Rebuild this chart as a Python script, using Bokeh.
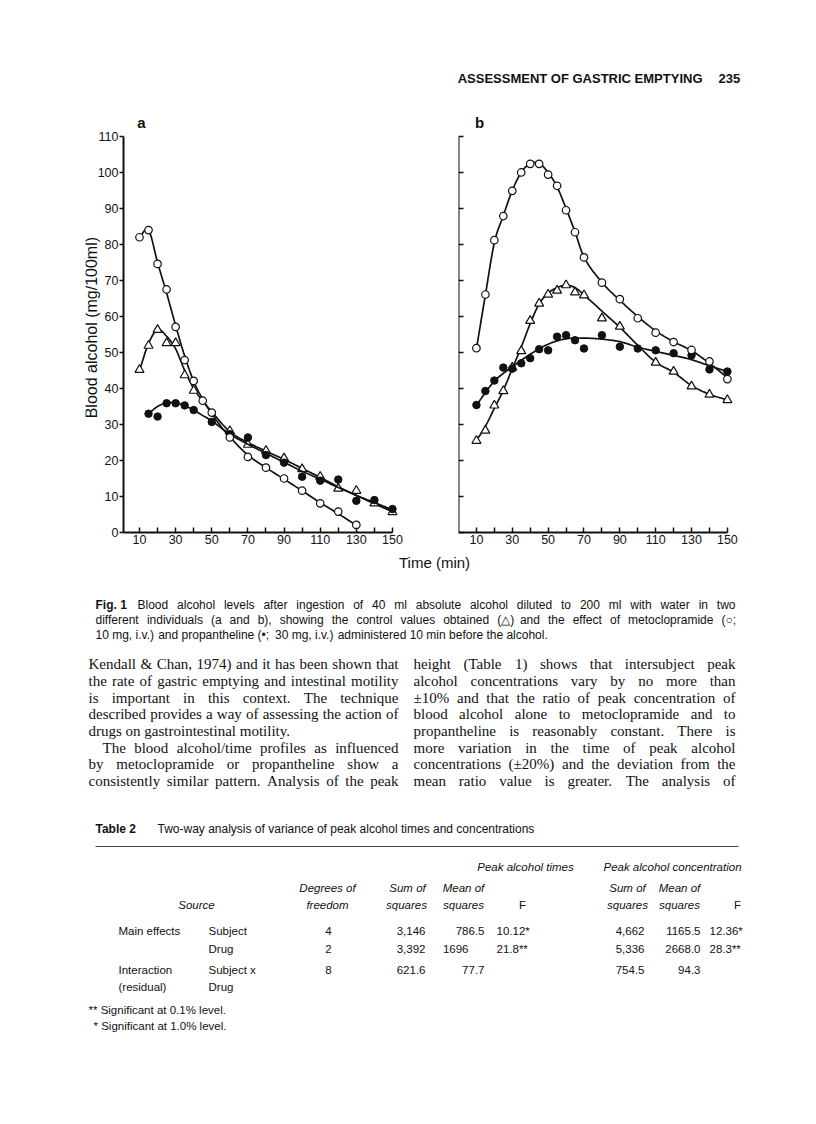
import numpy as np
from math import pi
from bokeh.plotting import figure
from bokeh.models import Range1d, FixedTicker, Label, ColumnDataSource
from bokeh.layouts import column, row
from bokeh.core.properties import value
from bokeh.embed import file_html
from bokeh.resources import INLINE

INK = "#111111"

# ---------------- data ----------------
# panel a : open circles = metoclopramide, triangles = control, filled = propantheline
a_met_t = [10, 15, 20, 25, 30, 35, 40, 45, 50, 60, 70, 80, 90, 100, 110, 120, 130]
a_met_v = [82, 84, 74.6, 67.5, 57.1, 47.9, 42.1, 36.6, 33.3, 26.4, 21, 18, 15, 11.6, 8.1, 5.8, 2.1]
a_ctl_t = [10, 15, 20, 25, 30, 35, 40, 60, 70, 80, 90, 100, 110, 120, 130, 140, 150]
a_ctl_v = [45.2, 51.9, 56.3, 52.6, 52.6, 43.7, 39.4, 28.2, 24.4, 22.7, 20.6, 17.6, 15.5, 12.2, 11.6, 8.1, 5.7]
a_pro_t = [15, 20, 25, 30, 35, 40, 50, 60, 70, 80, 90, 100, 110, 120, 130, 140, 150]
a_pro_v = [33, 32.2, 35.9, 35.9, 35.3, 34, 30.7, 27.3, 26.4, 21.5, 19.4, 15.5, 14.4, 14.7, 8.8, 9, 6.5]

# fitted curves of panel a (read at knots)
a_met_ck = [10, 15, 20, 25, 30, 35, 40, 45, 50, 55, 60, 70, 80, 90, 100, 110, 120, 130]
a_met_cv = [82, 84, 75, 66.5, 57.5, 49, 42, 37, 33, 29.5, 26.5, 21.5, 18, 14.8, 11.6, 8.3, 5.2, 2]
a_ctl_ck = [10, 15, 20, 25, 30, 35, 40, 45, 50, 60, 70, 80, 90, 100, 110, 120, 130, 140, 150]
a_ctl_cv = [45, 52.5, 56.3, 54.5, 51, 45, 40, 36.5, 33.5, 28, 25, 22.6, 20.3, 17.8, 15.3, 12.7, 10.3, 8, 5.8]
a_pro_ck = [15, 20, 25, 30, 35, 40, 45, 50, 60, 70, 80, 90, 100, 110, 120, 130, 140, 150]
a_pro_cv = [33, 35, 36, 36, 35.2, 34, 32.5, 31, 27.3, 24.5, 22, 19.5, 17, 14.8, 12.5, 10.3, 8.3, 6.3]

# panel b
b_met_t = [10, 15, 20, 25, 30, 35, 40, 45, 50, 55, 60, 65, 70, 80, 90, 100, 110, 120, 130, 140, 150]
b_met_v = [51.2, 66.1, 81.2, 87.9, 94.9, 100, 102.4, 102.4, 99.4, 96.3, 89.5, 83.4, 76.4, 69.4, 64.8,
           59.5, 55.5, 52.9, 50.7, 47.5, 42.6]
b_ctl_t = [10, 15, 20, 25, 30, 35, 40, 45, 50, 55, 60, 65, 70, 80, 90, 110, 120, 130, 140, 150]
b_ctl_v = [25.5, 28.3, 35.3, 39.3, 45.8, 50.4, 58.8, 63.6, 66.1, 67.2, 68.7, 66.7, 65.9, 59.5, 57.2,
           47.2, 44.7, 40.6, 38.3, 36.8]
b_pro_t = [10, 15, 20, 25, 30, 35, 40, 45, 50, 55, 60, 65, 70, 80, 90, 100, 110, 120, 130, 140, 150]
b_pro_v = [35.4, 39.3, 42.2, 45.8, 45.5, 47, 48.4, 50.9, 50.6, 54.4, 54.8, 53.4, 51.1, 54.8, 51.6,
           51.1, 50.6, 49.8, 49.2, 45.3, 44.7]

b_met_ck = [10, 15, 20, 25, 30, 35, 40, 45, 50, 55, 60, 65, 70, 80, 90, 100, 110, 120, 130, 140, 150]
b_met_cv = [51, 66, 80.5, 88, 95, 100, 102.5, 102.5, 100, 96, 90, 83.5, 76.5, 69.5, 64.5, 60, 56, 53,
            50.5, 47, 43]
b_ctl_ck = [10, 15, 20, 25, 30, 35, 40, 45, 50, 55, 60, 65, 70, 80, 90, 100, 110, 120, 130, 140, 150]
b_ctl_cv = [25.5, 29.5, 34.5, 39.5, 45.5, 51.5, 58, 63.5, 66.5, 68, 68.7, 68, 66, 61.5, 57, 52, 47.3,
            44.5, 40.8, 38.4, 36.8]
b_pro_ck = [10, 20, 30, 40, 50, 60, 70, 80, 90, 100, 110, 120, 130, 140, 150]
b_pro_cv = [35.4, 42, 46, 49.5, 52.3, 53.8, 54, 53.7, 53, 51.5, 50.3, 49.2, 48, 46.3, 44.7]

x_label_ticks = [10, 30, 50, 70, 90, 110, 130, 150]
x_plain_ticks = [20, 40, 60, 80, 100, 120, 140]
y_ticks = [0, 10, 20, 30, 40, 50, 60, 70, 80, 90, 100, 110]

# ---------------- texts ----------------
header_title = "ASSESSMENT OF GASTRIC EMPTYING"
header_page = "235"
y_title = "Blood alcohol (mg/100ml)"
x_title = "Time (min)"

caption_lines = [
    "Blood alcohol levels after ingestion of 40 ml absolute alcohol diluted to 200 ml with water in two",
    "different individuals (a and b), showing the control values obtained (\u25b3) and the effect of metoclopramide (\u25cb;",
    "10 mg, i.v.) and propantheline (\u2022; 30 mg, i.v.) administered 10 min before the alcohol.",
]
left_col = [
    "Kendall & Chan, 1974) and it has been shown that",
    "the rate of gastric emptying and intestinal motility",
    "is important in this context. The technique",
    "described provides a way of assessing the action of",
    "drugs on gastrointestinal motility.",
    "The blood alcohol/time profiles as influenced",
    "by metoclopramide or propantheline show a",
    "consistently similar pattern. Analysis of the peak",
]
right_col = [
    "height (Table 1) shows that intersubject peak",
    "alcohol concentrations vary by no more than",
    "\u00b110% and that the ratio of peak concentration of",
    "blood alcohol alone to metoclopramide and to",
    "propantheline is reasonably constant. There is",
    "more variation in the time of peak alcohol",
    "concentrations (\u00b120%) and the deviation from the",
    "mean ratio value is greater. The analysis of",
]
table_title = "Two-way analysis of variance of peak alcohol times and concentrations"
tbl_sources = ["Main effects", "", "Interaction", "(residual)"]
tbl_terms = ["Subject", "Drug", "Subject x", "Drug"]
tbl_df = ["4", "2", "8", ""]
tbl_t_ss = ["3,146", "3,392", "621.6", ""]
tbl_t_ms = ["786.5", "1696", "77.7", ""]
tbl_t_f = ["10.12*", "21.8**", "", ""]
tbl_c_ss = ["4,662", "5,336", "754.5", ""]
tbl_c_ms = ["1165.5", "2668.0", "94.3", ""]
tbl_c_f = ["12.36*", "28.3**", "", ""]
footnotes = ["** Significant at 0.1% level.", "* Significant at 1.0% level."]

# ---------------- helpers ----------------
def _tab(spec):
    d = {}
    for item in spec.split():
        d[item[0]] = int(item[1:])
    return d

SANS = _tab("A667 B667 C722 D722 E667 F611 G778 H722 I278 J500 K667 L556 M833 N722 O778 P667 Q778 "
            "R722 S667 T611 U722 V667 W944 X667 Y667 Z611 a556 b556 c500 d556 e556 f278 g556 h556 "
            "i222 j222 k500 l222 m833 n556 o556 p556 q556 r333 s500 t278 u556 v500 w722 x500 y500 "
            "z500 0556 1556 2556 3556 4556 5556 6556 7556 8556 9556 .278 ,278 (333 )333 ;278 :278 "
            "-333 %889 *389 /278")
SANS[" "] = 278
SERIF = _tab("A722 B667 C667 D722 E611 F556 G722 H722 I333 J389 K722 L611 M889 N722 O722 P556 Q722 "
             "R667 S556 T611 U722 V722 W944 X722 Y722 Z611 a444 b500 c444 d500 e444 f333 g500 h500 "
             "i278 j278 k500 l278 m778 n500 o500 p500 q500 r333 s389 t278 u500 v500 w722 x500 y500 "
             "z444 0500 1500 2500 3500 4500 5500 6500 7500 8500 9500 .250 ,250 (333 )333 ;278 :278 "
             "-333 %833 &778 /278")
SERIF[" "] = 250


def text_w(s, table):
    return sum(table.get(c, 560) for c in s) / 1000.0


def layout_line(s, x0, x1, y, size, table, justify):
    words = s.split(" ")
    ws = [text_w(w, table) * size for w in words]
    if justify and len(words) > 1:
        gap = (x1 - x0 - sum(ws)) / (len(words) - 1)
    else:
        gap = table[" "] / 1000.0 * size
    out = []
    x = x0
    for w, wd in zip(words, ws):
        out.append((x, y, w))
        x += wd + gap
    return out


def smooth_curve(xk, yk, n=16):
    xk = np.asarray(xk, float)
    yk = np.asarray(yk, float)
    m = np.zeros_like(yk)
    m[1:-1] = (yk[2:] - yk[:-2]) / (xk[2:] - xk[:-2])
    m[0] = (yk[1] - yk[0]) / (xk[1] - xk[0])
    m[-1] = (yk[-1] - yk[-2]) / (xk[-1] - xk[-2])
    xs, ys = [], []
    for i in range(len(xk) - 1):
        h = xk[i + 1] - xk[i]
        t = np.linspace(0, 1, n, endpoint=False)
        h00 = 2 * t**3 - 3 * t**2 + 1
        h10 = t**3 - 2 * t**2 + t
        h01 = -2 * t**3 + 3 * t**2
        h11 = t**3 - t**2
        xs.extend(xk[i] + t * h)
        ys.extend(h00 * yk[i] + h10 * h * m[i] + h01 * yk[i + 1] + h11 * h * m[i + 1])
    xs.append(xk[-1])
    ys.append(yk[-1])
    return xs, ys


def text_fig(w, h):
    p = figure(width=w, height=h, x_range=Range1d(0, w), y_range=Range1d(h, 0),
               x_axis_location=None, y_axis_location=None, min_border=0,
               output_backend="svg", toolbar_location=None)
    p.grid.visible = False
    p.outline_line_color = None
    return p


def put_text(p, items, font, size, style="normal", align="left", color=INK):
    if not items:
        return
    src = ColumnDataSource(dict(x=[i[0] for i in items], y=[i[1] for i in items],
                                t=[i[2] for i in items]))
    p.text(x="x", y="y", text="t", source=src, text_font=value(font), text_font_size=size,
           text_font_style=style, text_align=align, text_baseline="middle", text_color=color)


Y_TOP = 116.1   # room above the 110 tick for the panel letter
Y_BOT = -5.56   # room below 0 for the time tick labels


def panel(width, x0, x_axis0, x1, bl, br, show_ylabels, label_txt, label_x):
    p = figure(width=width, height=444, x_range=Range1d(x0, x1), y_range=Range1d(Y_BOT, Y_TOP),
               min_border_left=bl, min_border_right=br, min_border_top=6, min_border_bottom=0,
               output_backend="svg", toolbar_location=None)
    p.grid.visible = False
    p.outline_line_color = None
    for ax in (p.xaxis[0], p.yaxis[0]):
        ax.axis_line_width = 2
        ax.axis_line_color = INK
        ax.major_tick_line_width = 1.5
        ax.major_tick_line_color = INK
        ax.minor_tick_line_width = 1.5
        ax.minor_tick_line_color = INK
        ax.major_label_text_font = "Liberation Sans"
        ax.major_label_text_font_size = "12.5px"
        ax.major_label_text_color = INK
    xa = p.xaxis[0]
    xa.ticker = FixedTicker(ticks=x_label_ticks, minor_ticks=x_plain_ticks)
    xa.major_tick_in = 5
    xa.major_tick_out = 0
    xa.minor_tick_in = 5
    xa.minor_tick_out = 0
    xa.major_label_standoff = 3
    xa.bounds = (x_axis0, 150)
    xa.fixed_location = 0
    ya = p.yaxis[0]
    ya.bounds = (0, 110)
    ya.fixed_location = x_axis0
    if show_ylabels:
        ya.ticker = FixedTicker(ticks=y_ticks)
        ya.major_tick_in = 0
        ya.major_tick_out = 4
        ya.major_label_standoff = 1
    else:
        ya.ticker = FixedTicker(ticks=[], minor_ticks=y_ticks)
        ya.minor_tick_in = 5
        ya.minor_tick_out = 0
    p.add_layout(Label(x=label_x, y=113.8, text=label_txt, text_align="center",
                       text_baseline="middle", text_font="Liberation Sans",
                       text_font_size="15px", text_font_style="bold", text_color=INK))
    return p


def draw_series(p, t_pts, v_pts, ck, cv, kind):
    cx, cy = smooth_curve(ck, cv)
    p.line(cx, cy, line_width=1.7, line_color=INK)
    if kind == "open":
        p.scatter(t_pts, v_pts, marker="circle", size=7.5, fill_color="white",
                  line_color=INK, line_width=1.2)
    elif kind == "tri":
        p.scatter(t_pts, v_pts, marker="triangle", size=9, fill_color="white",
                  line_color=INK, line_width=1.2)
    else:
        p.scatter(t_pts, v_pts, marker="circle", size=7.5, fill_color=INK,
                  line_color=INK, line_width=1)


# ---------------- header (page y 0..108) ----------------
hdr = text_fig(808, 108)
put_text(hdr, [(702, 78, header_title)], "Liberation Sans", "13px", "bold", "right")
put_text(hdr, [(718, 78, header_page)], "Liberation Sans", "13px", "bold", "left")

# ---------------- panels (page y 108..552) ----------------
# panel a: frame from page x 85 to 403, y axis at page x 123 (t = 1.15)
pa = panel(408, -19.88, 1.15, 156.1, 85, 5, True, "a", 11.1)
draw_series(pa, a_ctl_t, a_ctl_v, a_ctl_ck, a_ctl_cv, "tri")
draw_series(pa, a_pro_t, a_pro_v, a_pro_ck, a_pro_cv, "fill")
draw_series(pa, a_met_t, a_met_v, a_met_ck, a_met_cv, "open")
pa.add_layout(Label(x=-16.8, y=56.9, text=y_title, angle=pi / 2, text_align="center",
                    text_baseline="middle", text_font="Liberation Sans", text_font_size="16px",
                    text_color=INK))

# panel b: frame from page x 458
pb = panel(400, 0, 0, 156.2, 50, 70, False, "b", 11.7)
draw_series(pb, b_ctl_t, b_ctl_v, b_ctl_ck, b_ctl_cv, "tri")
draw_series(pb, b_pro_t, b_pro_v, b_pro_ck, b_pro_cv, "fill")
draw_series(pb, b_met_t, b_met_v, b_met_ck, b_met_cv, "open")

# ---------------- lower page (page y 552..1116) ----------------
low = text_fig(808, 564)
OY = 552


def P(x, y):
    return (x, y - OY)


put_text(low, [(*P(434, 562), x_title)], "Liberation Sans", "15px", "normal", "center")

# caption
put_text(low, [(*P(95, 604), "Fig. 1")], "Liberation Sans", "12px", "bold")
cap_items = []
cap_y = [604, 619, 634]
for i, line in enumerate(caption_lines):
    x0 = 137 if i == 0 else 95
    cap_items += layout_line(line, x0, 735, cap_y[i] - OY, 12, SANS, i < 2)
put_text(low, cap_items, "Liberation Sans", "12px")

# body text
body_y = [663, 680, 697, 713, 730, 747, 763, 780]
body_items = []
for i, line in enumerate(left_col):
    x0 = 102 if i == 5 else 88
    body_items += layout_line(line, x0, 398, body_y[i] - OY, 15, SERIF, i != 4)
for i, line in enumerate(right_col):
    body_items += layout_line(line, 413, 735, body_y[i] - OY, 15, SERIF, True)
put_text(low, body_items, "Liberation Serif", "15px")

# table
put_text(low, [(*P(95, 828), "Table 2")], "Liberation Sans", "12px", "bold")
put_text(low, [(*P(157, 828), table_title)], "Liberation Sans", "12px")
low.line([95, 738], [846 - OY, 846 - OY], line_color="#444444", line_width=1.2)

hdr_items = [
    (*P(525, 866), "Peak alcohol times"), (*P(672, 866), "Peak alcohol concentration"),
    (*P(327, 887), "Degrees of"), (*P(327, 904), "freedom"),
    (*P(407, 887), "Sum of"), (*P(406, 904), "squares"),
    (*P(463, 887), "Mean of"), (*P(463, 904), "squares"),
    (*P(627, 887), "Sum of"), (*P(627, 904), "squares"),
    (*P(679, 887), "Mean of"), (*P(679, 904), "squares"),
    (*P(196, 904), "Source"),
]
put_text(low, hdr_items, "Liberation Sans", "11.5px", "italic", "center")
put_text(low, [(*P(522, 904), "F"), (*P(737, 904), "F")], "Liberation Sans", "11.5px",
         "normal", "center")

row_y = [930, 948, 969, 986]
left_items, right_items, center_items = [], [], []
for i, yy in enumerate(row_y):
    left_items.append((*P(118, yy), tbl_sources[i]))
    left_items.append((*P(208, yy), tbl_terms[i]))
    center_items.append((*P(328, yy), tbl_df[i]))
    right_items.append((*P(425, yy), tbl_t_ss[i]))
    right_items.append((*P(468 if tbl_t_ms[i] == "1696" else 484, yy), tbl_t_ms[i]))
    left_items.append((*P(496, yy), tbl_t_f[i]))
    right_items.append((*P(644, yy), tbl_c_ss[i]))
    right_items.append((*P(700, yy), tbl_c_ms[i]))
    left_items.append((*P(709, yy), tbl_c_f[i]))
put_text(low, [it for it in left_items if it[2]], "Liberation Sans", "11.5px", "normal", "left")
put_text(low, [it for it in right_items if it[2]], "Liberation Sans", "11.5px", "normal", "right")
put_text(low, [it for it in center_items if it[2]], "Liberation Sans", "11.5px", "normal", "center")

put_text(low, [(*P(88, 1009), footnotes[0]), (*P(93, 1025), footnotes[1])],
         "Liberation Sans", "11.5px")

page = column(hdr, row(pa, pb), low)
open("out.html", "w").write(file_html(page, INLINE))
